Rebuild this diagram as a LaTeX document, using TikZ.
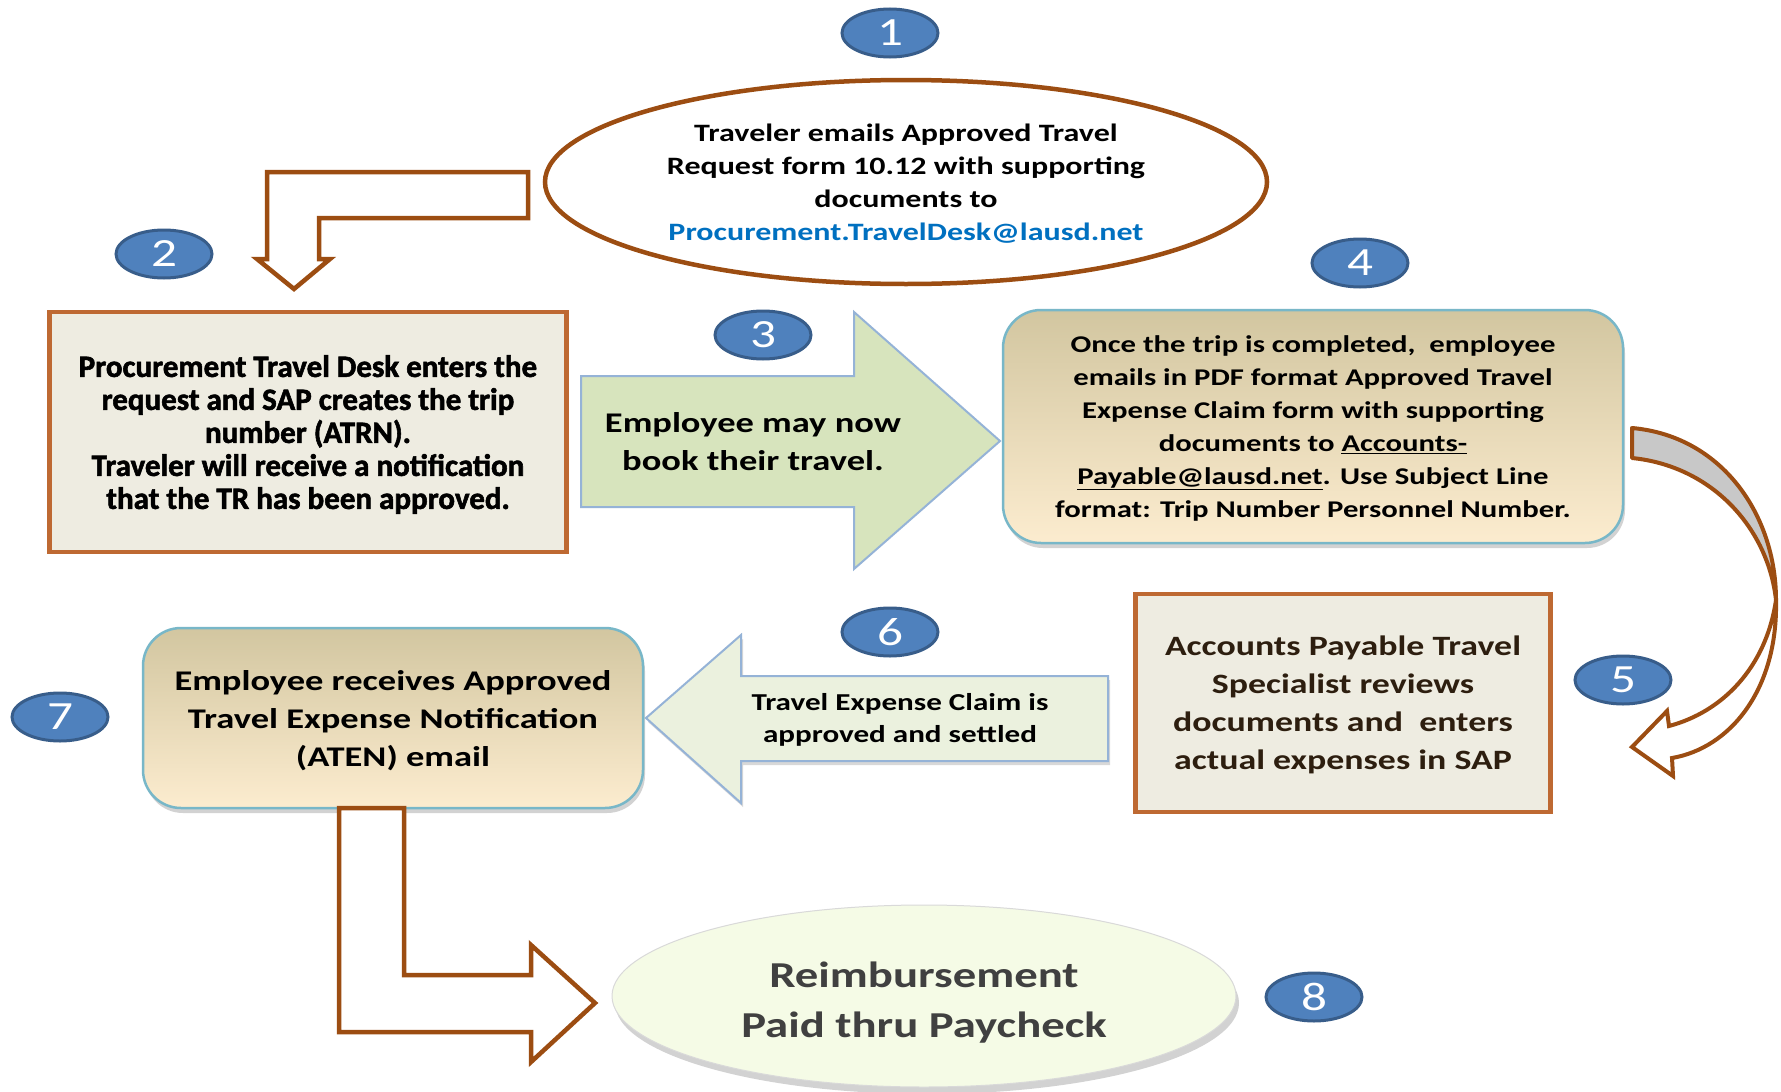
\documentclass[tikz,border=0pt]{standalone}
\usepackage{fontspec}
\setmainfont{Carlito}[FakeStretch=1.28]
\newfontfamily\narrowfont{Carlito}[UprightFont={* Bold}, BoldFont={* Bold}, FakeBold=1.8]
\usetikzlibrary{shapes.geometric,shadows}

\definecolor{badgeblue}{RGB}{79,129,189}
\definecolor{badgeedge}{RGB}{56,93,138}
\definecolor{arrowbrown}{RGB}{156,77,18}
\definecolor{boxedge}{RGB}{190,105,50}
\definecolor{boxfill}{RGB}{238,236,225}
\definecolor{leafgreen}{RGB}{215,228,189}
\definecolor{palegreen}{RGB}{235,241,222}
\definecolor{skyedge}{RGB}{149,179,215}
\definecolor{tealedge}{RGB}{120,183,200}
\definecolor{creamtop}{RGB}{210,198,160}
\definecolor{creambot}{RGB}{252,236,207}
\definecolor{mailblue}{RGB}{0,112,192}
\definecolor{limefill}{RGB}{245,251,230}
\definecolor{twistgrey}{RGB}{200,200,200}
\definecolor{aptext}{RGB}{45,30,15}

\tikzset{
  badge/.style={ellipse, draw=badgeedge, line width=3pt, fill=badgeblue,
    minimum width=96pt, minimum height=48pt, inner sep=0pt, text=white,
    font=\fontsize{40}{40}\selectfont},
  tanbox/.style={rectangle, draw=boxedge, line width=4.5pt, fill=boxfill, align=center,
    text depth=0pt},
  creambox/.style={rectangle, rounded corners=38pt, draw=tealedge, line width=2.5pt,
    top color=creamtop, bottom color=creambot, align=center, text depth=0pt,
    drop shadow={shadow xshift=2pt, shadow yshift=-5pt, opacity=0.35}},
  hollowarrow/.style={draw=arrowbrown, line width=4.5pt, fill=white, line join=miter},
  leafarrow/.style={draw=skyedge, line width=2pt, line join=miter},
}

\begin{document}
\begin{tikzpicture}[x=1pt,y=-1pt]
  \path[fill=white, use as bounding box] (0,0) rectangle (1781,1092);

  % Step 1
  \node[ellipse, draw=arrowbrown, line width=4.5pt, fill=white, inner sep=0pt,
    minimum width=722pt, minimum height=204pt, align=center, text depth=0pt,
    font=\bfseries\fontsize{25}{33}\selectfont] (mailoval) at (906,182)
    {Traveler emails Approved Travel\\ Request form 10.12 with supporting\\ documents to\\
     \textcolor{mailblue}{Procurement.TravelDesk@lausd.net}};
  \draw[hollowarrow] (528,172) -- (267,172) -- (267,259) -- (257,259) -- (294,289)
    -- (330,259) -- (319,259) -- (319,218) -- (528,218) -- cycle;

  % Step 2
  \node[tanbox, minimum width=517pt, minimum height=240pt,
    font=\narrowfont\fontsize{31}{33}\selectfont] (deskbox) at (308,432)
    {Procurement Travel Desk enters the\\ request and SAP creates the trip\\ number (ATRN).\\
     Traveler will receive a notification\\ that the TR has been approved.};

  % Step 3
  \draw[leafarrow, fill=leafgreen] (581,376) -- (854,376) -- (854,312) -- (1000,441)
    -- (854,569) -- (854,507) -- (581,507) -- cycle;
  \node[align=center, text depth=0pt, font=\bfseries\fontsize{28.5}{38}\selectfont] (booktext)
    at (753,441) {Employee may now\\ book their travel.};

  % Step 4
  \node[creambox, minimum width=620pt, minimum height=233pt,
    font=\bfseries\fontsize{24}{33}\selectfont] (claimbox) at (1313,426.5)
    {Once the trip is completed, \ employee\\ emails in PDF format Approved Travel\\
     Expense Claim form with supporting\\ documents to \underline{Accounts-}\\
     \underline{Payable@lausd.net}. Use Subject Line\\ format: Trip Number Personnel Number.};

  % twisted arrow down to step 5
  \filldraw[draw=arrowbrown, line width=4pt, fill=twistgrey, line join=round]
    (1632,428) .. controls (1722,436) and (1776,515) .. (1776,600)
    .. controls (1768,528) and (1712,466) .. (1632,458) -- cycle;
  \filldraw[draw=arrowbrown, line width=4pt, fill=white, line join=miter]
    (1776,600) .. controls (1778,690) and (1730,748) .. (1672,758) -- (1673,776)
    -- (1632,747) -- (1667,711) -- (1669,726)
    .. controls (1722,712) and (1766,668) .. (1776,600);

  % Step 5
  \node[tanbox, minimum width=415pt, minimum height=218pt, text=aptext,
    font=\bfseries\fontsize{28}{38}\selectfont] (apbox) at (1343,703)
    {Accounts Payable Travel\\ Specialist reviews\\ documents and \ enters\\ actual expenses in SAP};

  % Step 6
  \draw[leafarrow, fill=palegreen, drop shadow={shadow xshift=2pt, shadow yshift=-4pt, opacity=0.3}]
    (1108,676) -- (741,676) -- (741,635) -- (646,718) -- (741,803) -- (741,761)
    -- (1108,761) -- cycle;
  \node[align=center, text depth=0pt, font=\bfseries\fontsize{24.3}{32}\selectfont] (settletext)
    at (900,718) {Travel Expense Claim is\\ approved and settled};

  % Step 7
  \node[creambox, minimum width=500pt, minimum height=180pt,
    font=\bfseries\fontsize{28.5}{38}\selectfont] (atenbox) at (393,718)
    {Employee receives Approved\\ Travel Expense Notification\\ (ATEN) email};
  \draw[hollowarrow] (339,808) -- (339,1032) -- (531,1032) -- (531,1062) -- (595,1003)
    -- (531,945) -- (531,975) -- (404,975) -- (404,808) -- cycle;

  % Step 8
  \node[ellipse, draw=black!15, line width=1pt, fill=limefill, inner sep=0pt,
    minimum width=624pt, minimum height=182pt,
    drop shadow={shadow xshift=3pt, shadow yshift=-7pt, opacity=0.35}] (payoval) at (924,996) {};
  \node[align=center, text=black!75, font=\bfseries\fontsize{36.5}{50}\selectfont] (paytext)
    at (924,1003) {Reimbursement\\ Paid thru Paycheck};

  % numbers
  \node[badge] (badge1) at (890,33) {1};
  \node[badge] (badge2) at (164,254) {2};
  \node[badge] (badge3) at (763,335) {3};
  \node[badge] (badge4) at (1360,263) {4};
  \node[badge] (badge5) at (1623,680) {5};
  \node[badge] (badge6) at (890,632) {6};
  \node[badge] (badge7) at (60,717) {7};
  \node[badge] (badge8) at (1314,997) {8};
\end{tikzpicture}
\end{document}
